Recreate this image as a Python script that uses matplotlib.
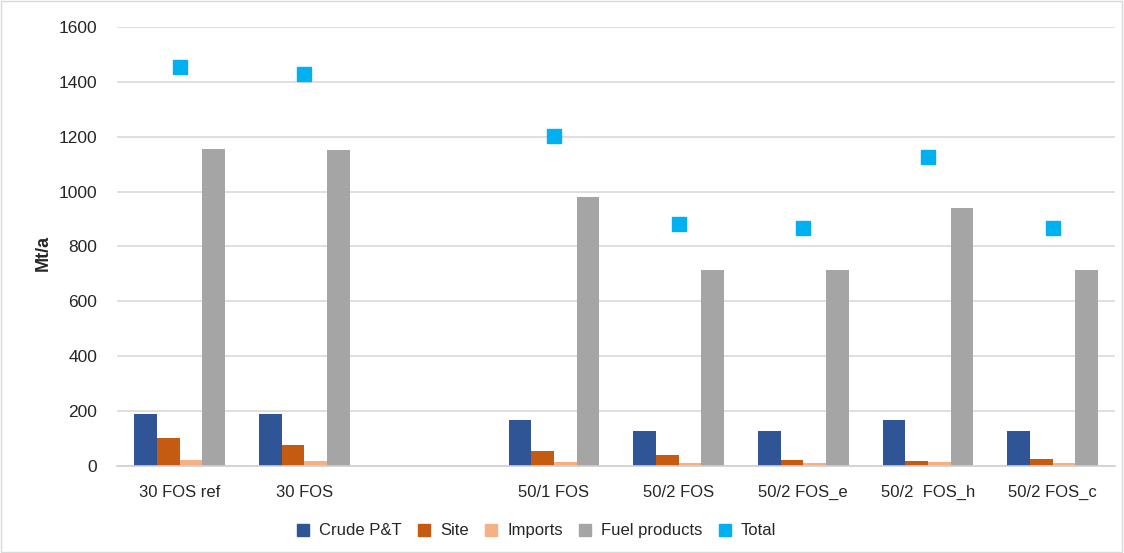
import numpy as np
import matplotlib.pyplot as plt
from matplotlib.lines import Line2D
from matplotlib.patches import Rectangle

plt.rcParams['font.family'] = ['Liberation Sans', 'DejaVu Sans']

# ------- datos -------
categorias = ['30 FOS ref', '30 FOS', '', '50/1 FOS', '50/2 FOS', '50/2 FOS_e', '50/2  FOS_h', '50/2 FOS_c']
crude = [188, 188, np.nan, 166, 125, 125, 166, 125]
site = [101, 76, np.nan, 54, 37, 21, 16, 25]
imports = [21, 18, np.nan, 14, 10, 10, 14, 10]
fuel = [1155, 1151, np.nan, 980, 714, 714, 939, 714]
total = [1455, 1430, np.nan, 1203, 882, 867, 1126, 867]

series = ['Crude P&T', 'Site', 'Imports', 'Fuel products']
colores = ['#2F5597', '#C55A11', '#F4B183', '#A5A5A5']
c_total = '#00B0F0'

fig = plt.figure(figsize=(11.24, 5.53), dpi=100)
ax = fig.add_axes([0.1045, 0.158, 0.8875, 0.7926])

x = np.arange(len(categorias))
w = 1 / 5.5
valores = [crude, site, imports, fuel]
for i in range(4):
    ax.bar(x + (i - 1.5) * w, valores[i], width=w, color=colores[i], label=series[i], zorder=2)
ax.plot(x, total, ls='none', marker='s', ms=10, color=c_total, label='Total', zorder=3)

ax.set_xlim(-0.5, len(categorias) - 0.5)
ax.set_ylim(0, 1600)
ax.set_yticks(range(0, 1601, 200))
ax.set_xticks(x)
ax.set_xticklabels(categorias, fontsize=12, color='#262626')
ax.tick_params(axis='y', labelsize=12.5, colors='#262626', length=0, pad=14.5)
ax.tick_params(axis='x', length=0, pad=14)
ax.grid(axis='y', color='#d9d9d9', lw=1.2, zorder=0)
for s in ['top', 'right', 'left']:
    ax.spines[s].set_visible(False)
ax.spines['bottom'].set_color('#d0d0d0')
ax.spines['bottom'].set_linewidth(1.2)
ax.set_ylabel('Mt/a', fontsize=13, fontweight='bold', color='#262626')
ax.yaxis.set_label_coords(-0.0655, 0.485)

handles = [Line2D([], [], ls='none', marker='s', ms=8, color=c) for c in colores + [c_total]]
ax.legend(handles, series + ['Total'], loc='center', bbox_to_anchor=(0.42, -0.149), ncol=5,
          frameon=False, fontsize=12, handlelength=0.8, handletextpad=0.55, columnspacing=0.95,
          labelcolor='#262626')

fig.patches.append(Rectangle((0.001, 0.001), 0.997, 0.997, transform=fig.transFigure,
                             fill=False, edgecolor='#d9d9d9', lw=1))

fig.savefig('out.png', dpi=100)
